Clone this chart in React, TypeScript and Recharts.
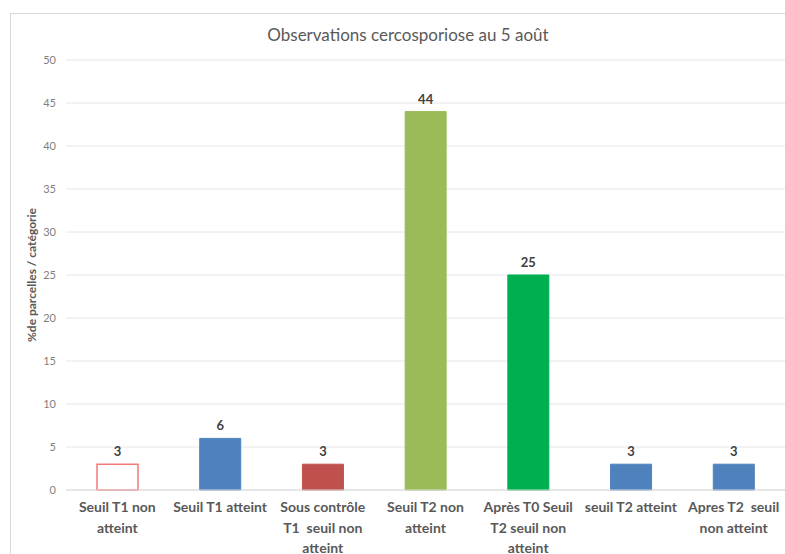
import React from 'react';
import { BarChart, Bar, XAxis, YAxis, CartesianGrid, Cell, LabelList } from 'recharts';

const categories = [
  'Seuil T1 non\natteint',
  'Seuil T1 atteint',
  'Sous contrôle\nT1  seuil non\natteint',
  'Seuil T2 non\natteint',
  'Après T0 Seuil\nT2 seuil non\natteint',
  'seuil T2 atteint',
  'Apres T2  seuil\nnon atteint',
];
const values = [3, 6, 3, 44, 25, 3, 3];
const fills = ['#ffffff', '#4f81bd', '#c0504d', '#9bbb59', '#00b050', '#4f81bd', '#4f81bd'];
const strokes = ['#f47a78', '#4f81bd', '#c0504d', '#9bbb59', '#00b050', '#4f81bd', '#4f81bd'];
const yTicks = [0, 5, 10, 15, 20, 25, 30, 35, 40, 45, 50];

const data = categories.map((name, i) => ({ name, value: values[i] }));

const FONT = 'Lato, "Liberation Sans", sans-serif';

function CategoryTick(props: any) {
  const { x, y, payload } = props;
  const lines = String(payload.value).split('\n');
  return (
    <g transform={`translate(${x},${y})`}>
      {lines.map((line, i) => (
        <text
          key={i}
          x={0}
          y={14 + i * 20.5}
          textAnchor="middle"
          fill="#595959"
          fontSize={14}
          fontWeight="bold"
          fontFamily={FONT}
          style={{ whiteSpace: 'pre' }}
        >
          {line}
        </text>
      ))}
    </g>
  );
}

export default function App() {
  return (
    <div style={{ position: 'absolute', left: 0, top: 0, width: 785, height: 554, overflow: 'hidden', background: '#fff' }}>
      <div
        style={{
          position: 'absolute',
          left: 10,
          top: 13,
          width: 800,
          height: 600,
          border: '1px solid #d9d9d9',
        }}
      />
      <div
        style={{
          position: 'absolute',
          left: 0,
          top: 24,
          width: 816,
          textAlign: 'center',
          fontFamily: FONT,
          fontSize: 17,
          color: '#595959',
        }}
      >
        Observations cercosporiose au 5 août
      </div>
      <div style={{ position: 'absolute', left: 0, top: 0 }}>
        <BarChart width={785} height={554} data={data} margin={{ top: 60, right: 0, bottom: 34, left: 0 }}>
          <CartesianGrid vertical={false} stroke="#e6e6e6" />
          <XAxis
            dataKey="name"
            interval={0}
            tickLine={false}
            axisLine={{ stroke: '#d9d9d9' }}
            tick={<CategoryTick />}
          />
          <YAxis
            domain={[0, 50]}
            ticks={yTicks}
            width={66}
            tickLine={false}
            axisLine={false}
            tickSize={0}
            tickMargin={10}
            tick={{ fill: '#7f7f7f', fontSize: 11, fontFamily: FONT }}
            label={{
              content: () => (
                <text
                  x={33}
                  y={275}
                  transform="rotate(-90 33 275)"
                  textAnchor="middle"
                  dominantBaseline="middle"
                  fill="#595959"
                  fontSize={12}
                  fontWeight="bold"
                  fontFamily={FONT}
                >
                  %de parcelles / catégorie
                </text>
              ),
            }}
          />
          <Bar dataKey="value" barSize={41} isAnimationActive={false}>
            {data.map((d, i) => (
              <Cell key={d.name} fill={fills[i]} stroke={strokes[i]} strokeWidth={i === 0 ? 1.5 : 1} />
            ))}
            <LabelList
              dataKey="value"
              position="top"
              offset={8}
              fill="#404040"
              fontSize={13}
              fontWeight="bold"
              fontFamily={FONT}
            />
          </Bar>
        </BarChart>
      </div>
    </div>
  );
}
